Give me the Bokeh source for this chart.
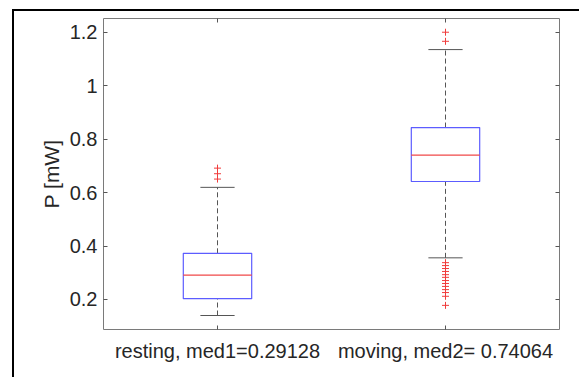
from bokeh.plotting import figure
from bokeh.models import Range1d, FixedTicker, LinearAxis, InlineStyleSheet
from bokeh.embed import file_html
from bokeh.resources import INLINE

# ---- data ----
categories = ["resting, med1=0.29128", "moving, med2= 0.74064"]
positions = [1, 2]
q1 = [0.203, 0.642]
median = [0.29128, 0.74064]
q3 = [0.373, 0.844]
lower_whisker = [0.140, 0.356]
upper_whisker = [0.620, 1.136]
outliers_resting = [0.651, 0.671, 0.692]
outliers_moving = [1.167, 1.201,
                   0.338, 0.327, 0.316, 0.305, 0.293, 0.283, 0.271, 0.260,
                   0.249, 0.237, 0.226, 0.212, 0.178]
y_ticks = [0.2, 0.4, 0.6, 0.8, 1.0, 1.2]
y_tick_labels = ["0.2", "0.4", "0.6", "0.8", "1", "1.2"]
y_label = "P [mW]"

FONT = "Liberation Sans"
TXT = "#262626"
AX = "#7a7a7a"

p = figure(width=579, height=377, output_backend="svg", toolbar_location=None,
           x_range=Range1d(0.5, 2.5), y_range=Range1d(0.0876, 1.2524),
           min_border_left=103, min_border_right=20, min_border_top=18,
           min_border_bottom=48)
p.xgrid.visible = False
p.ygrid.visible = False
p.outline_line_color = AX
p.outline_line_width = 1
p.background_fill_color = "white"
p.border_fill_color = None
# outer figure frame: only its left and top edges fall inside the window
p.stylesheets = [InlineStyleSheet(css="""
:host {
  background-color: white;
  background-image: linear-gradient(#000000, #000000), linear-gradient(#000000, #000000);
  background-size: 2px 600px, 900px 2px;
  background-position: 12px 9px, 12px 9px;
  background-repeat: no-repeat, no-repeat;
}
""")]

box_w = 0.30
cap_w = 0.15

# whiskers (dashed)
p.segment(x0=positions, y0=q3, x1=positions, y1=upper_whisker,
          line_color="#555555", line_width=1, line_dash="5 3")
p.segment(x0=positions, y0=lower_whisker, x1=positions, y1=q1,
          line_color="#555555", line_width=1, line_dash="5 3")
# caps
p.segment(x0=[x - cap_w / 2 for x in positions], y0=upper_whisker,
          x1=[x + cap_w / 2 for x in positions], y1=upper_whisker,
          line_color="#555555", line_width=1)
p.segment(x0=[x - cap_w / 2 for x in positions], y0=lower_whisker,
          x1=[x + cap_w / 2 for x in positions], y1=lower_whisker,
          line_color="#555555", line_width=1)
# boxes
p.quad(left=[x - box_w / 2 for x in positions], right=[x + box_w / 2 for x in positions],
       bottom=q1, top=q3, fill_color=None, line_color="#5c5cff", line_width=1.2)
# medians
p.segment(x0=[x - box_w / 2 for x in positions], y0=median,
          x1=[x + box_w / 2 for x in positions], y1=median,
          line_color="#f04848", line_width=1.2)
# outliers
p.scatter(x=[positions[0]] * len(outliers_resting), y=outliers_resting,
          marker="cross", size=7, line_color="#f03c3c", line_width=1)
p.scatter(x=[positions[1]] * len(outliers_moving), y=outliers_moving,
          marker="cross", size=7, line_color="#f03c3c", line_width=1)

def style_axis(ax, show_labels=True):
    ax.axis_line_color = None
    ax.major_tick_line_color = "#555555"
    ax.major_tick_in = 4
    ax.major_tick_out = 0
    ax.minor_tick_line_color = None
    ax.major_label_text_font = FONT
    ax.major_label_text_color = TXT
    ax.major_label_text_font_size = "20px"
    if not show_labels:
        ax.major_label_text_alpha = 0
        ax.major_label_text_font_size = "1px"

# bottom axis
xa = p.xaxis[0]
xa.ticker = FixedTicker(ticks=positions)
xa.major_label_overrides = {pos: lab for pos, lab in zip(positions, categories)}
style_axis(xa)
xa.major_label_standoff = 10

# left axis
ya = p.yaxis[0]
ya.ticker = FixedTicker(ticks=y_ticks)
ya.major_label_overrides = {t: l for t, l in zip(y_ticks, y_tick_labels)}
style_axis(ya)
ya.major_label_standoff = 6
ya.axis_label = y_label
ya.axis_label_text_font = FONT
ya.axis_label_text_font_style = "normal"
ya.axis_label_text_font_size = "21px"
ya.axis_label_text_color = TXT
ya.axis_label_standoff = 4

# right and top mirror axes (ticks only)
ra = LinearAxis(ticker=FixedTicker(ticks=y_ticks))
style_axis(ra, show_labels=False)
p.add_layout(ra, "right")
ta = LinearAxis(ticker=FixedTicker(ticks=positions))
style_axis(ta, show_labels=False)
p.add_layout(ta, "above")

open("out.html", "w").write(file_html(p, INLINE))
